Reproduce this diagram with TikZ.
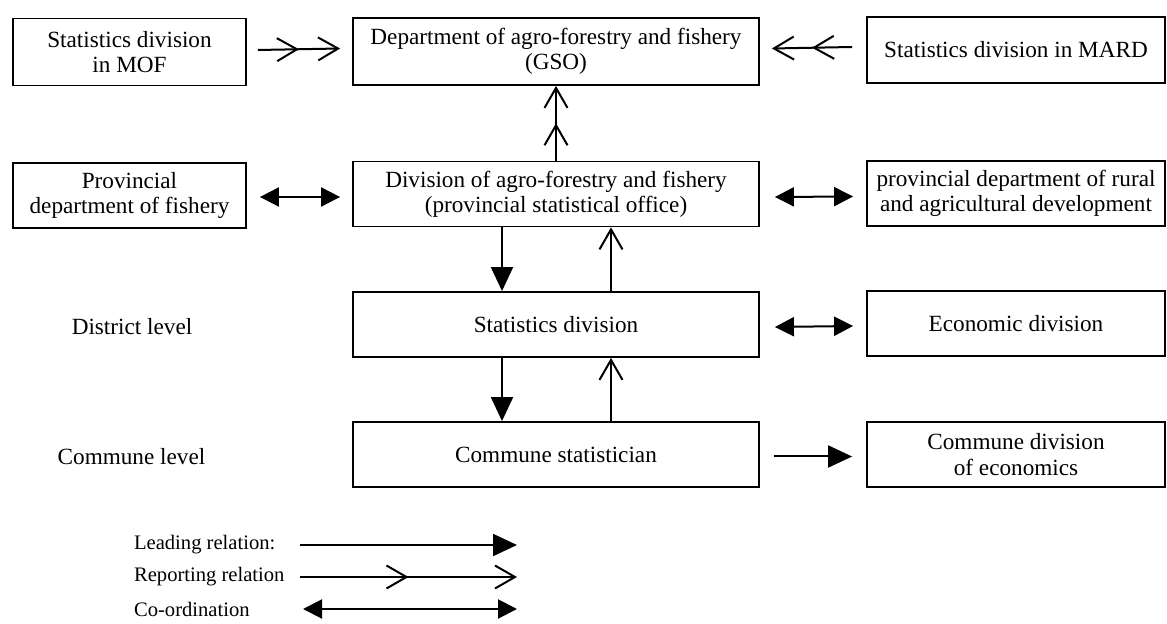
\documentclass[tikz,border=0pt]{standalone}
\usepackage{fontspec}
\setmainfont{Liberation Serif}
\usetikzlibrary{arrows.meta, positioning, decorations.markings}

\begin{document}
\begin{tikzpicture}[
    x=0.5pt, y=-0.5pt,
    every node/.style={font=\fontsize{11.6}{12.6}\selectfont},
    blk/.style={rectangle, draw, line width=0.9pt, inner sep=2pt,
                minimum width=203pt, minimum height=32.5pt, align=center},
    sideblk/.style={blk, minimum width=116.5pt},
    rightblk/.style={blk, minimum width=149pt},
    lvl/.style={anchor=center},
    lgd/.style={anchor=west, font=\fontsize{10.3}{12}\selectfont},
    lead/.style={-{Triangle[length=12pt,width=11pt]}, line width=1pt},
    coop/.style={{Triangle[length=9.5pt,width=9.5pt]}-{Triangle[length=9.5pt,width=9.5pt]}, line width=1pt},
    repone/.style={-{Straight Barb[length=10pt,width=11.5pt]}, line width=1pt},
    rep/.style={repone,
                postaction={decorate},
                decoration={markings, mark=at position 0.5 with
                  {\arrow{Straight Barb[length=10pt,width=11.5pt]}}}}
]
    \useasboundingbox (0,0) rectangle (1167,624);

    % national level
    \node[sideblk, minimum height=33.5pt] (mof) at (129.5,52) {Statistics division\\in MOF};
    \node[blk, minimum height=33.5pt] (gso) at (556,51.5) {Department of agro-forestry and fishery\\(GSO)};
    \node[rightblk, minimum height=33pt] (mard) at (1016,50) {Statistics division in MARD};

    % provincial level
    \node[sideblk] (fish) at (129.5,195.5) {Provincial\\department of fishery};
    \node[blk] (prov) at (556,194) {Division of agro-forestry and fishery\\(provincial statistical office)};
    \node[rightblk] (rural) at (1016,193.5) {provincial department of rural\\and agricultural development};

    % district and commune level
    \node[lvl] (dlvl) at (132,327) {District level};
    \node[blk] (dist) at (556,324.5) {Statistics division};
    \node[rightblk] (econ) at (1016,323.5) {Economic division};

    \node[lvl] (clvl) at (131.5,457) {Commune level};
    \node[blk] (comm) at (556,454.5) {Commune statistician};
    \node[rightblk] (commecon) at (1016,454.5) {Commune division\\of economics};

    % connections
    \draw[rep] ([xshift=5.5pt,yshift=1pt]mof.east) -- ([xshift=-6pt,yshift=1.5pt]gso.west);
    \draw[rep] ([xshift=-7pt,yshift=1.5pt]mard.west) -- ([xshift=6pt,yshift=1.5pt]gso.east);
    \draw[rep] (prov.north) -- (gso.south);
    \draw[coop] ([xshift=6.5pt,yshift=-0.75pt]fish.east) -- ([xshift=-6pt,yshift=-1.5pt]prov.west);
    \draw[coop] ([xshift=7.5pt,yshift=-1.5pt]prov.east) -- ([xshift=-6.5pt,yshift=-1.5pt]rural.west);
    \draw[lead] ([xshift=-27pt]prov.south) -- ([xshift=-27pt]dist.north);
    \draw[repone] ([xshift=27.5pt]dist.north) -- ([xshift=27.5pt]prov.south);
    \draw[coop] ([xshift=7.5pt,yshift=-1.25pt]dist.east) -- ([xshift=-6.5pt,yshift=-1.25pt]econ.west);
    \draw[lead] ([xshift=-27pt]dist.south) -- ([xshift=-27pt]comm.north);
    \draw[repone] ([xshift=27.5pt]comm.north) -- ([xshift=27.5pt]dist.south);
    \draw[lead] ([xshift=7pt,yshift=-1pt]comm.east) -- ([xshift=-7pt,yshift=-1pt]commecon.west);

    % legend
    \node[lgd] (l1) at (127,545) {Leading relation:};
    \node[lgd] (l2) at (127,577) {Reporting relation};
    \node[lgd] (l3) at (127,609) {Co-ordination};
    \coordinate (l1a) at (300,545);
    \coordinate (l1b) at (517,545);
    \coordinate (l2a) at (300,577);
    \coordinate (l2b) at (517,577);
    \coordinate (l3a) at (303,609);
    \coordinate (l3b) at (517,609);
    \draw[lead] (l1a) -- (l1b);
    \draw[rep] (l2a) -- (l2b);
    \draw[coop] (l3a) -- (l3b);
\end{tikzpicture}
\end{document}
